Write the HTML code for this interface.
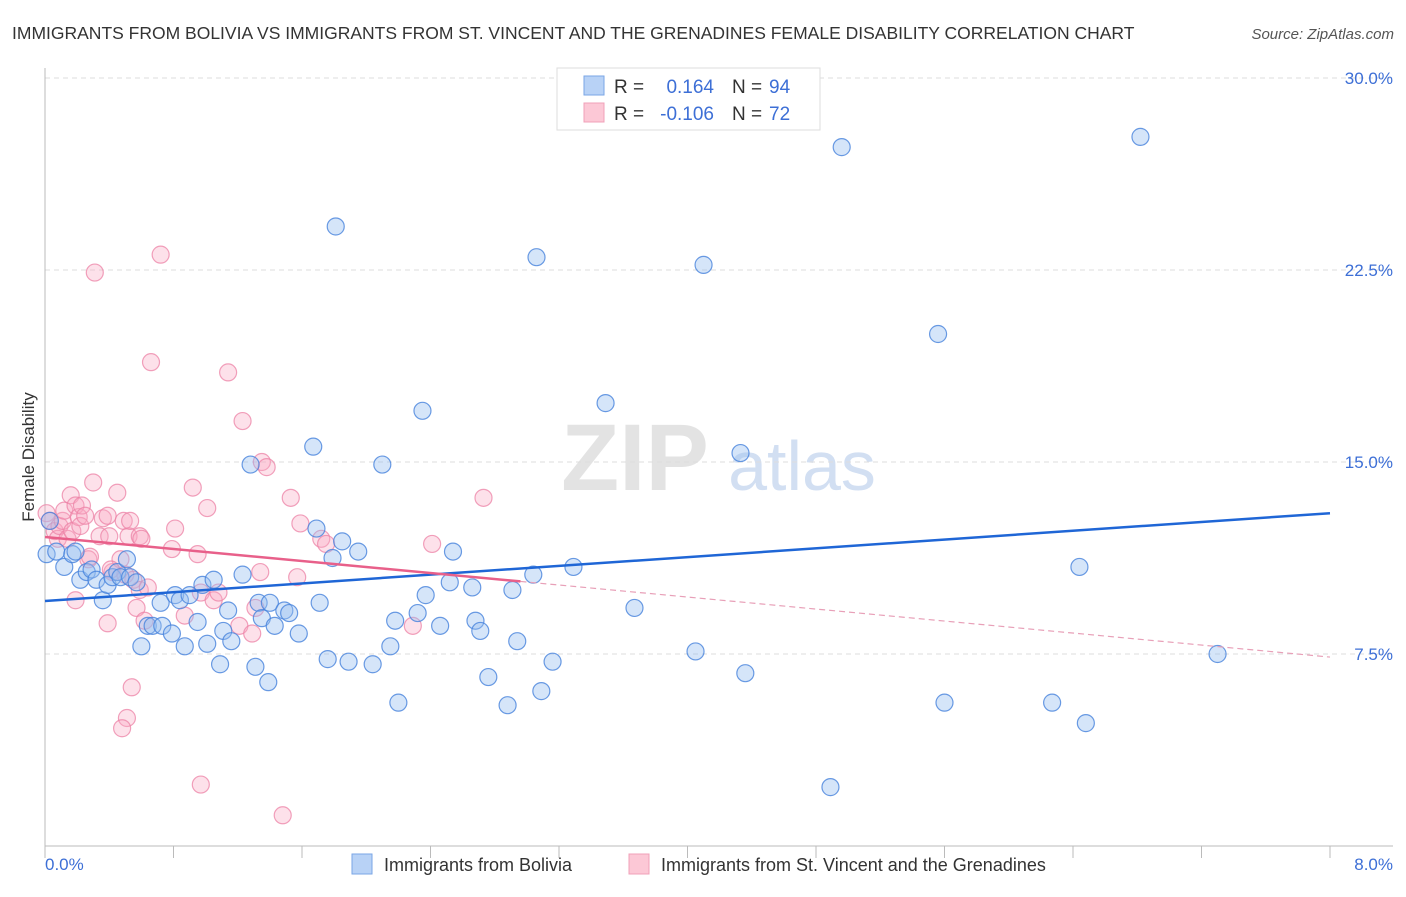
<!DOCTYPE html>
<html><head><meta charset="utf-8"><style>
body{margin:0;background:#fff;font-family:"Liberation Sans",sans-serif;}
svg text{font-family:"Liberation Sans",sans-serif;}
</style></head><body>
<svg id="chart" width="1406" height="892" xmlns="http://www.w3.org/2000/svg">
<text x="12" y="39" font-size="17.5" fill="#333">IMMIGRANTS FROM BOLIVIA VS IMMIGRANTS FROM ST. VINCENT AND THE GRENADINES FEMALE DISABILITY CORRELATION CHART</text>
<text x="1394" y="39" font-size="15" fill="#555" text-anchor="end" font-style="italic">Source: ZipAtlas.com</text>
<g>
<text x="635" y="490" font-size="95" fill="#ddd" text-anchor="middle" font-family="Liberation Serif" font-weight="bold" opacity="0.8">ZIP</text>
<text x="802" y="490" font-size="70" fill="#c8d8f0" text-anchor="middle" opacity="0.8">atlas</text>
</g>
<g id="grid"></g>
<g id="axes"></g>
<g id="marks"></g>
<g id="trends"></g>
<text transform="translate(34,457) rotate(-90)" font-size="17" fill="#333" text-anchor="middle">Female Disability</text>
<text x="45" y="870" font-size="17" fill="#3d6fd6">0.0%</text>
<text x="1393" y="870" font-size="17" fill="#3d6fd6" text-anchor="end">8.0%</text>
<g>
<rect x="557" y="68" width="263" height="62" fill="#fff" stroke="#ddd"/>
<rect x="584" y="76" width="20" height="19" fill="#b8d2f6" stroke="#7aa6e6"/>
<rect x="584" y="103" width="20" height="19" fill="#fcc8d6" stroke="#f0a0b8"/>
<text x="614" y="93" font-size="19" fill="#333">R =</text>
<text x="714" y="93" font-size="19" fill="#3d6fd6" text-anchor="end">0.164</text>
<text x="732" y="93" font-size="19" fill="#333">N =</text>
<text x="769" y="93" font-size="19" fill="#3d6fd6">94</text>
<text x="614" y="120" font-size="19" fill="#333">R =</text>
<text x="714" y="120" font-size="19" fill="#3d6fd6" text-anchor="end">-0.106</text>
<text x="732" y="120" font-size="19" fill="#333">N =</text>
<text x="769" y="120" font-size="19" fill="#3d6fd6">72</text>
</g>
<g>
<rect x="352" y="854" width="20" height="20" fill="#b8d2f6" stroke="#7aa6e6"/>
<text x="384" y="871" font-size="18" fill="#333">Immigrants from Bolivia</text>
<rect x="629" y="854" width="20" height="20" fill="#fcc8d6" stroke="#f0a0b8"/>
<text x="661" y="871" font-size="18" fill="#333">Immigrants from St. Vincent and the Grenadines</text>
</g>
</svg>
<script>
const yTicks=[7.5,15,22.5,30];
const yTickLabels=["7.5%","15.0%","22.5%","30.0%"];
const xTicks=[0,0.8,1.6,2.4,3.2,4,4.8,5.6,6.4,7.2,8];
const boliviaX=[.01,.03,.07,.12,.17,.19,.22,.26,.29,.32,.36,.39,.42,.45,.47,.51,.53,.57,.60,.64,.67,.72,.73,.79,.81,.84,.87,.90,.95,.98,1.01,1.05,1.09,1.11,1.14,1.16,1.23,1.28,1.31,1.33,1.35,1.39,1.40,1.43,1.49,1.52,1.58,1.67,1.69,1.71,1.76,1.79,1.85,1.89,1.95,2.04,2.10,2.15,2.20,2.18,2.32,2.35,2.37,2.46,2.52,2.54,2.66,2.68,2.71,2.76,2.88,2.91,2.94,3.04,3.06,3.09,3.16,3.29,3.49,3.67,4.05,4.10,4.33,4.36,4.96,4.89,5.56,5.60,6.27,6.44,6.48,6.82,7.30,1.81];
const boliviaY=[11.4,12.7,11.5,10.9,11.4,11.5,10.4,10.7,10.8,10.4,9.6,10.2,10.5,10.7,10.5,11.2,10.5,10.3,7.8,8.6,8.6,9.5,8.6,8.3,9.8,9.6,7.8,9.8,8.75,10.2,7.9,10.4,7.1,8.4,9.2,8.0,10.6,14.9,7.0,9.5,8.9,6.4,9.5,8.6,9.2,9.1,8.3,15.6,12.4,9.5,7.3,11.25,11.9,7.2,11.5,7.1,14.9,7.8,5.6,8.8,9.1,17.0,9.8,8.6,10.3,11.5,10.1,8.8,8.4,6.6,5.5,10.0,8.0,10.6,23.0,6.05,7.2,10.9,17.3,9.3,7.6,22.7,15.35,6.75,27.3,2.3,20.0,5.6,5.6,10.9,4.8,27.7,7.5,24.2];
const vincentX=[.01,.03,.06,.08,.09,.11,.12,.14,.16,.17,.19,.21,.22,.23,.25,.27,.28,.30,.31,.34,.36,.39,.40,.42,.45,.47,.49,.50,.51,.52,.53,.54,.55,.57,.59,.59,.60,.62,.64,.66,.72,.79,.81,.87,.92,.95,.97,1.01,1.05,1.08,1.14,1.21,1.23,1.29,1.31,1.34,1.35,1.38,1.48,1.53,1.57,1.59,1.72,1.75,2.29,2.41,2.73,.39,.19,.97,.48,.41];
const vincentY=[13.0,12.7,12.3,12.0,12.5,12.7,13.1,12.0,13.7,12.3,13.3,12.85,12.5,13.3,12.9,11.2,11.3,14.2,22.4,12.1,12.8,12.9,12.1,10.7,13.8,11.2,12.7,10.6,5.0,12.1,12.7,6.2,10.4,9.3,12.1,10.0,12.0,8.8,10.1,18.9,23.1,11.6,12.4,9.0,14.0,11.4,9.9,13.2,9.6,9.9,18.5,8.6,16.6,8.3,9.3,10.7,15.0,14.8,1.2,13.6,10.5,12.6,12.0,11.8,8.6,11.8,13.6,8.7,9.6,2.4,4.6,10.8];
const boliviaTrend=[9.57,13.0];
const vincentTrend=[12.07,7.38];
const vincentSolidEnd=2.96;
const NS="http://www.w3.org/2000/svg";
const X0=45,X1=1330,Y0=846,PPU=25.6;
function sx(v){return X0+(X1-X0)*v/8;}
function sy(v){return Y0-v*PPU;}
function mk(tag,attrs,parent){const e=document.createElementNS(NS,tag);for(const k in attrs)e.setAttribute(k,attrs[k]);parent.appendChild(e);return e;}
const grid=document.getElementById('grid'),axes=document.getElementById('axes'),marks=document.getElementById('marks'),trends=document.getElementById('trends');
yTicks.forEach((t,i)=>{
  const l=mk('line',{x1:X0,x2:1393,y1:sy(t),y2:sy(t),stroke:'#ddd','stroke-dasharray':'5,4'},grid);
  
  
  const tx=mk('text',{x:1393,y:sy(t)+6,'font-size':17,fill:'#3d6fd6','text-anchor':'end'},axes);
  tx.textContent=yTickLabels[i];
  
  
});
const ya=mk('line',{x1:X0,x2:X0,y1:68,y2:Y0,stroke:'#bbb'},axes);


const xa=mk('line',{x1:X0,x2:1393,y1:Y0,y2:Y0,stroke:'#bbb'},axes);


xTicks.forEach(t=>{
  const l=mk('line',{x1:sx(t),x2:sx(t),y1:Y0,y2:Y0+12,stroke:'#bbb'},axes);
  
  
});
function pts(xs,ys,fill,stroke,name){
  xs.forEach((x,i)=>{
    const c=mk('circle',{cx:sx(x),cy:sy(ys[i]),r:8.5,fill:fill,stroke:stroke,'stroke-width':1.2},marks);
    
    
  });
}
pts(vincentX,vincentY,'rgba(248,170,195,0.35)','rgba(236,130,165,0.75)','stvincent-point');
pts(boliviaX,boliviaY,'rgba(150,190,240,0.4)','rgba(70,130,220,0.8)','bolivia-point');
const bt=mk('line',{x1:sx(0),y1:sy(boliviaTrend[0]),x2:sx(8),y2:sy(boliviaTrend[1]),stroke:'#1f66d6','stroke-width':2.5},trends);


const vy=x=>vincentTrend[0]+(vincentTrend[1]-vincentTrend[0])*x/8;
const vt=mk('line',{x1:sx(0),y1:sy(vy(0)),x2:sx(vincentSolidEnd),y2:sy(vy(vincentSolidEnd)),stroke:'#e8608a','stroke-width':2.5},trends);


const vd=mk('line',{x1:sx(vincentSolidEnd),y1:sy(vy(vincentSolidEnd)),x2:sx(8),y2:sy(vy(8)),stroke:'#e8a0b8','stroke-width':1.2,'stroke-dasharray':'6,4'},trends);


</script>
</body></html>
